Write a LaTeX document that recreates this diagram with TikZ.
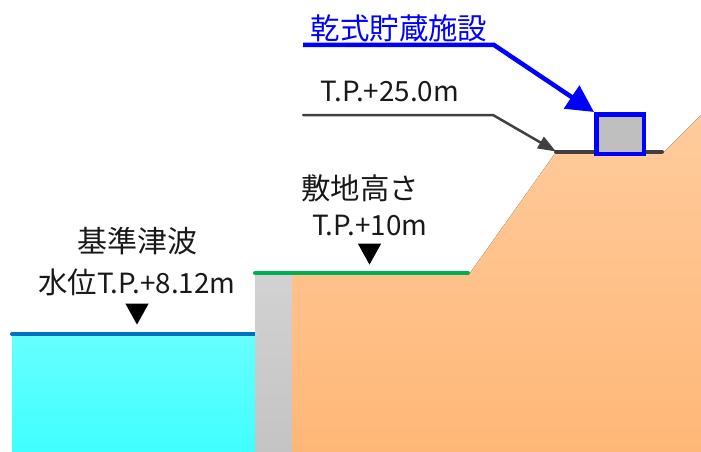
\documentclass[tikz,border=0pt]{standalone}
\usepackage{fontspec}
\setmainfont{Noto Sans CJK JP}
\usetikzlibrary{arrows.meta,shapes.geometric}
\definecolor{leaderdark}{HTML}{404040}
\definecolor{storeblue}{HTML}{0000FF}
\definecolor{seablue}{HTML}{0070C0}
\definecolor{groundgreen}{HTML}{00B050}
\definecolor{seatop}{HTML}{66FFFF}
\definecolor{seabot}{HTML}{40FFFF}
\definecolor{walltop}{HTML}{D2D2D2}
\definecolor{wallbot}{HTML}{C4C4C4}
\definecolor{landtop}{HTML}{FFCB9C}
\definecolor{landbot}{HTML}{FFB777}
\newcommand{\lat}{\fontsize{27.8}{32}\selectfont}
\newcommand{\cjkl}{\fontsize{29.4}{32}\selectfont}
\tikzset{
  x=1pt,y=-1pt,
  label/.style={inner sep=0pt,text=black!90},
  levelmark/.style={fill=black,draw=none,isosceles triangle,shape border rotate=-90,isosceles triangle apex angle=58,minimum width=23,minimum height=21,inner sep=0pt},
  levelline/.style={line width=4,line cap=round},
}
\begin{document}
\begin{tikzpicture}
\useasboundingbox (0,0) rectangle (701,452);
% ground and sea
\fill[top color=seatop,bottom color=seabot] (12,335) rectangle (255,452);
\fill[top color=walltop,bottom color=wallbot] (255,273) rectangle (292,452);
\fill[top color=landtop,bottom color=landbot] (292,273) -- (470,273) -- (556,152) -- (664,152) -- (701,115) -- (701,452) -- (292,452) -- cycle;
% level lines
\coordinate (seaL) at (12,334);
\coordinate (seaR) at (255,334);
\coordinate (siteL) at (255,273);
\coordinate (siteR) at (468,273);
\coordinate (padL) at (556,151.5);
\coordinate (padR) at (662,151.5);
\draw[levelline,seablue] (seaL) -- (seaR);
\fill[walltop] (255,331) rectangle (258,337);
\draw[levelline,groundgreen] (siteL) -- (siteR);
\draw[levelline,leaderdark] (padL) -- (padR);
% storage
\node[draw=storeblue,line width=4.5,fill=black!25,minimum width=47.5,minimum height=39.5,inner sep=0pt] (store) at (620,134) {};
% leaders
\coordinate (blueStart) at (303,45);
\coordinate (blueKnee) at (494,45);
\coordinate (greyStart) at (303,115);
\coordinate (greyKnee) at (493,115);
\draw[storeblue,line width=4.5,-{Triangle[length=27,width=27]}] (blueStart) -- (blueKnee) -- (store.north west);
\draw[leaderdark,line width=2.5,line cap=round,-{Triangle[length=18,width=13]}] (greyStart) -- (greyKnee) -- (padL);
% labels
\node[label,text=storeblue,font=\cjkl] (t1) at (399,28) {乾式貯蔵施設};
\node[label,font=\lat] (t2) at (390,91) {T.P.+25.0m};
\node[label,font=\cjkl] (t3) at (360,188) {敷地高さ};
\node[label,font=\lat] (t4) at (370,225) {T.P.+10m};
\node[label,font=\fontsize{30}{32}\selectfont] (t5) at (137,241) {基準津波};
\node[label,font=\lat] (t6) at (137,282) {{\cjkl 水位}T.P.+8.12m};
\node[levelmark,anchor=apex] (m1) at (137,325) {};
\node[levelmark,anchor=apex] (m2) at (369.5,265) {};
\end{tikzpicture}
\end{document}
